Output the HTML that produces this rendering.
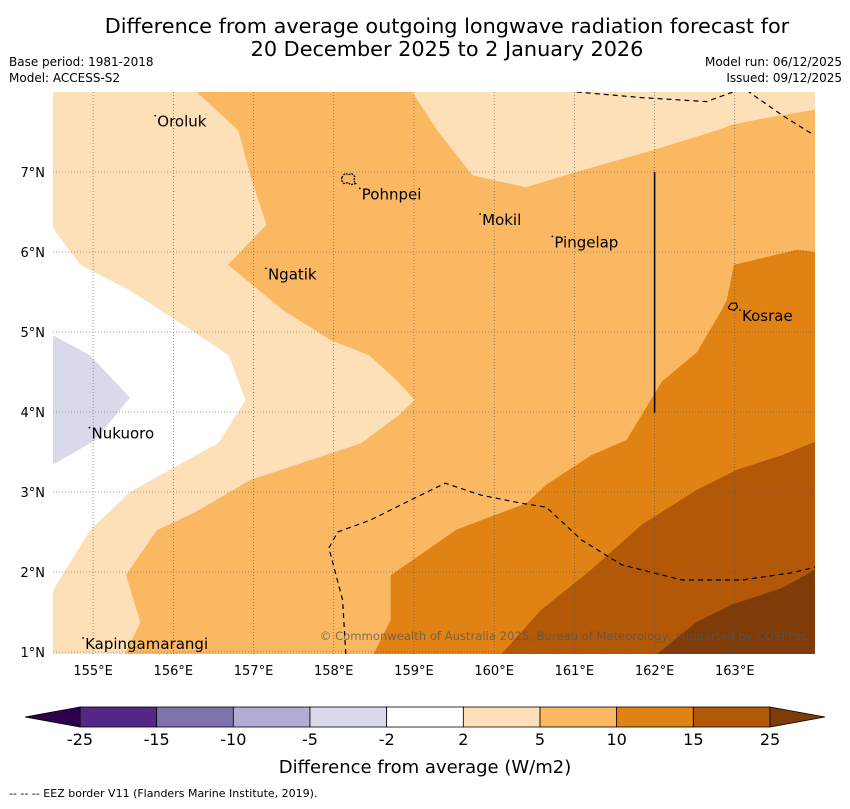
<!DOCTYPE html>
<html><head><meta charset="utf-8"><style>
body{margin:0;background:#fff;font-family:"Liberation Sans","DejaVu Sans",sans-serif;}
svg text{font-family:"DejaVu Sans","Liberation Sans",sans-serif;}
</style></head><body>
<svg id="chart" width="850" height="804" viewBox="0 0 850 804" xmlns="http://www.w3.org/2000/svg">
<text x="447" y="33" font-size="20.8" text-anchor="middle">Difference from average outgoing longwave radiation forecast for</text>
<text x="447" y="56" font-size="20.8" text-anchor="middle">20 December 2025 to 2 January 2026</text>
<text x="9" y="66" font-size="12">Base period: 1981-2018</text>
<text x="9" y="82" font-size="12">Model: ACCESS-S2</text>
<text x="842" y="66" font-size="12" text-anchor="end">Model run: 06/12/2025</text>
<text x="842" y="82" font-size="12" text-anchor="end">Issued: 09/12/2025</text>
<defs><clipPath id="mapclip"><rect x="53" y="92" width="762" height="562"/></clipPath></defs>
<g id="map" clip-path="url(#mapclip)"></g>
<g id="axes"></g>
<g id="cbar"></g>
<text x="425" y="773" font-size="18" text-anchor="middle">Difference from average (W/m2)</text>
<text x="9" y="797" font-size="11">--  --  -- EEZ border V11 (Flanders Marine Institute, 2019).</text>
</svg>
<script>
const lonMin=154.5, lonMax=164.0, latMin=0.975, latMax=8.0;
const lonTicks=[155,156,157,158,159,160,161,162,163];
const latTicks=[1,2,3,4,5,6,7];
const levels=[-25,-15,-10,-5,-2,2,5,10,15,25];
const levelColors=["#542788","#8073ac","#b2abd2","#d8daeb","#ffffff","#fde0b8","#fbb863","#e08214","#b35806"];
const whiteRegion=[[154.5,6.3],[154.59,6.17],[154.84,5.84],[155.44,5.53],[156.03,5.15],[156.69,4.71],[156.9,4.15],[156.56,3.61],[156.28,3.46],[155.46,3.0],[154.96,2.52],[154.5,1.77]];
const lavenderRegion=[[154.5,4.96],[154.96,4.71],[155.46,4.18],[155.03,3.65],[154.5,3.34]];
const orangeRegion=[[156.29,8.0],[156.81,7.52],[156.96,6.96],[157.16,6.34],[156.68,5.84],[157.36,5.28],[157.96,4.9],[158.44,4.71],[158.78,4.4],[159.01,4.15],[158.81,3.96],[158.34,3.61],[157.71,3.4],[156.96,3.15],[156.26,2.74],[155.79,2.52],[155.41,1.96],[155.59,1.37],[155.36,0.9],[164.0,0.9],[164.0,7.78],[163.41,7.68],[162.96,7.59],[162.78,7.52],[161.9,7.25],[161.09,7.02],[160.39,6.81],[159.73,6.96],[159.29,7.52],[158.98,8.0]];
const darkOrangeRegion=[[158.71,1.96],[159.53,2.53],[160.4,2.86],[160.65,3.09],[161.21,3.46],[161.65,3.65],[162.09,4.38],[162.53,4.75],[162.84,5.28],[162.9,5.4],[162.99,5.84],[163.78,6.03],[164.0,6.0],[164.0,0.9],[158.46,0.9],[158.71,1.4]];
const brownRegion=[[160.09,0.975],[160.59,1.53],[161.21,2.03],[161.84,2.59],[162.53,3.03],[163.03,3.28],[163.59,3.46],[164.0,3.63],[164.0,0.9],[160.05,0.9]];
const darkestRegion=[[162.03,0.975],[162.53,1.38],[162.96,1.59],[163.59,1.8],[164.0,2.03],[164.0,0.9],[162.0,0.9]];
const eezSouth=[[158.15,0.975],[158.11,1.65],[157.94,2.3],[158.05,2.5],[158.46,2.65],[158.96,2.9],[159.39,3.11],[159.84,2.96],[160.34,2.86],[160.65,2.81],[161.09,2.4],[161.59,2.09],[162.34,1.9],[163.09,1.9],[163.71,1.99],[164.0,2.06]];
const eezNorth=[[161.03,8.0],[161.84,7.93],[162.65,7.88],[163.03,8.02]];
const eezNE=[[163.15,8.02],[163.59,7.71],[163.99,7.46]];
const divider=[[162.0,7.0],[162.0,3.99]];
const places=[["Oroluk",155.8,7.63],["Pohnpei",158.35,6.72],["Mokil",159.85,6.4],["Pingelap",160.75,6.12],["Ngatik",157.18,5.72],["Kosrae",163.09,5.2],["Nukuoro",154.98,3.73],["Kapingamarangi",154.9,1.1]];

const X=lon=>53+(lon-lonMin)/(lonMax-lonMin)*762;
const Y=lat=>92+(latMax-lat)/(latMax-latMin)*562;
const NS="http://www.w3.org/2000/svg";
function mk(tag,attrs,parent){const e=document.createElementNS(NS,tag);for(const k in attrs)e.setAttribute(k,attrs[k]);parent.appendChild(e);return e;}
const pts=a=>a.map(p=>X(p[0]).toFixed(1)+","+Y(p[1]).toFixed(1)).join(" ");
const map=document.getElementById('map');
let r=mk('rect',{x:53,y:92,width:762,height:562,fill:levelColors[5]},map);


const regs=[[orangeRegion,6,'contour-5-10'],[whiteRegion,4,'contour-neutral'],[lavenderRegion,3,'contour-minus5-minus2'],[darkOrangeRegion,7,'contour-10-15'],[brownRegion,8,'contour-15-25'],[darkestRegion,-1,'contour-above-25']];
regs.forEach(([poly,ci,name])=>{
 const p=mk('polygon',{points:pts(poly),fill:ci<0?'#7f3b08':levelColors[ci]},map);
 
 
});
lonTicks.forEach(l=>{const g=mk('line',{x1:X(l),x2:X(l),y1:92,y2:654,stroke:'#555','stroke-width':0.6,'stroke-dasharray':'1,2'},map);
 
 });
latTicks.forEach(l=>{const g=mk('line',{x1:53,x2:815,y1:Y(l),y2:Y(l),stroke:'#555','stroke-width':0.6,'stroke-dasharray':'1,2'},map);
 
 });
[eezSouth,eezNorth,eezNE].forEach(l=>{const e=mk('polyline',{points:pts(l),fill:'none',stroke:'#000','stroke-width':1.2,'stroke-dasharray':'5,4'},map);
 
 });
let d=mk('polyline',{points:pts(divider),fill:'none',stroke:'#000','stroke-width':1.5},map);


let pi=mk('path',{d:`M${X(158.1)},${Y(6.93)} l3,-4 l4,1 l3,-1 l3,3 l-1,4 l2,3 l-5,1 l-3,-2 l-4,1 l-2,-3z`,fill:'none',stroke:'#000','stroke-width':1.2,'stroke-dasharray':'2,1'},map);


let ko=mk('path',{d:`M${X(162.92)},${Y(5.31)} l3,-4 l5,0 l1,4 l-3,3 l-5,-1z`,fill:'none',stroke:'#000','stroke-width':1.2},map);


places.forEach(([n,lo,la])=>{
 const t=mk('text',{x:X(lo),y:Y(la)+5,'font-size':15},map);t.textContent=n;
 
 
 const m=mk('circle',{cx:X(lo)-2,cy:Y(la)-6,r:0.9,fill:'#000'},map);
 
 
});
let c=mk('text',{x:808,y:640,'font-size':11.6,'text-anchor':'end',fill:'#555','fill-opacity':0.75},map);
c.textContent='© Commonwealth of Australia 2025, Bureau of Meteorology, supported by COSPPac';


const ax=document.getElementById('axes');
lonTicks.forEach(l=>{const t=mk('text',{x:X(l),y:675,'font-size':13,'text-anchor':'middle'},ax);t.textContent=l+'°E';
 
 });
latTicks.forEach(l=>{const t=mk('text',{x:45,y:Y(l)+5,'font-size':13,'text-anchor':'end'},ax);t.textContent=l+'°N';
 
 });
const cb=document.getElementById('cbar');
const cx0=80,cx1=770,cy=707,ch=20,seg=(cx1-cx0)/levelColors.length;
levelColors.forEach((col,i)=>{const s=mk('rect',{x:cx0+i*seg,y:cy,width:seg,height:ch,fill:col,stroke:'#000','stroke-width':0.8},cb);
 
 });
let tl=mk('polygon',{points:`${cx0},${cy} 25,${cy+ch/2} ${cx0},${cy+ch}`,fill:'#2d004b',stroke:'#000','stroke-width':0.8},cb);


let tr=mk('polygon',{points:`${cx1},${cy} 825,${cy+ch/2} ${cx1},${cy+ch}`,fill:'#7f3b08',stroke:'#000','stroke-width':0.8},cb);


levels.forEach((v,i)=>{const t=mk('text',{x:cx0+i*seg,y:745,'font-size':16,'text-anchor':'middle'},cb);t.textContent=v;
 
 });
</script>
</body></html>
